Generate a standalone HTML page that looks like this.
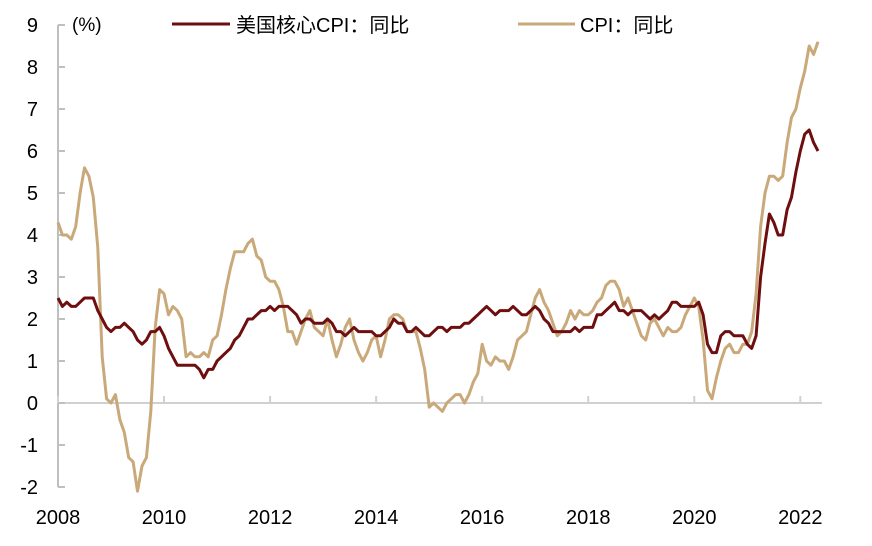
<!DOCTYPE html>
<html><head><meta charset="utf-8"><style>
body{margin:0;background:#fff;}
svg{display:block;font-family:"Liberation Sans","Noto Sans CJK SC",sans-serif;}
</style></head><body>
<svg id="chart" width="872" height="546" viewBox="0 0 872 546"></svg>
<script>
const years=[2008,2010,2012,2014,2016,2018,2020,2022];
const yTicks=[-2,-1,0,1,2,3,4,5,6,7,8,9];
const cpi=[4.3,4.0,4.0,3.9,4.2,5.0,5.6,5.4,4.9,3.7,1.1,0.1,
0.0,0.2,-0.4,-0.7,-1.3,-1.4,-2.1,-1.5,-1.3,-0.2,1.8,2.7,
2.6,2.1,2.3,2.2,2.0,1.1,1.2,1.1,1.1,1.2,1.1,1.5,
1.6,2.1,2.7,3.2,3.6,3.6,3.6,3.8,3.9,3.5,3.4,3.0,
2.9,2.9,2.7,2.3,1.7,1.7,1.4,1.7,2.0,2.2,1.8,1.7,
1.6,2.0,1.5,1.1,1.4,1.8,2.0,1.5,1.2,1.0,1.2,1.5,
1.6,1.1,1.5,2.0,2.1,2.1,2.0,1.7,1.7,1.7,1.3,0.8,
-0.1,0.0,-0.1,-0.2,0.0,0.1,0.2,0.2,0.0,0.2,0.5,0.7,
1.4,1.0,0.9,1.1,1.0,1.0,0.8,1.1,1.5,1.6,1.7,2.1,
2.5,2.7,2.4,2.2,1.9,1.6,1.7,1.9,2.2,2.0,2.2,2.1,
2.1,2.2,2.4,2.5,2.8,2.9,2.9,2.7,2.3,2.5,2.2,1.9,
1.6,1.5,1.9,2.0,1.8,1.6,1.8,1.7,1.7,1.8,2.1,2.3,
2.5,2.3,1.5,0.3,0.1,0.6,1.0,1.3,1.4,1.2,1.2,1.4,
1.4,1.7,2.6,4.2,5.0,5.4,5.4,5.3,5.4,6.2,6.8,7.0,
7.5,7.9,8.5,8.3,8.6];
const core=[2.5,2.3,2.4,2.3,2.3,2.4,2.5,2.5,2.5,2.2,2.0,1.8,
1.7,1.8,1.8,1.9,1.8,1.7,1.5,1.4,1.5,1.7,1.7,1.8,
1.6,1.3,1.1,0.9,0.9,0.9,0.9,0.9,0.8,0.6,0.8,0.8,
1.0,1.1,1.2,1.3,1.5,1.6,1.8,2.0,2.0,2.1,2.2,2.2,
2.3,2.2,2.3,2.3,2.3,2.2,2.1,1.9,2.0,2.0,1.9,1.9,
1.9,2.0,1.9,1.7,1.7,1.6,1.7,1.8,1.7,1.7,1.7,1.7,
1.6,1.6,1.7,1.8,2.0,1.9,1.9,1.7,1.7,1.8,1.7,1.6,
1.6,1.7,1.8,1.8,1.7,1.8,1.8,1.8,1.9,1.9,2.0,2.1,
2.2,2.3,2.2,2.1,2.2,2.2,2.2,2.3,2.2,2.1,2.1,2.2,
2.3,2.2,2.0,1.9,1.7,1.7,1.7,1.7,1.7,1.8,1.7,1.8,
1.8,1.8,2.1,2.1,2.2,2.3,2.4,2.2,2.2,2.1,2.2,2.2,
2.2,2.1,2.0,2.1,2.0,2.1,2.2,2.4,2.4,2.3,2.3,2.3,
2.3,2.4,2.1,1.4,1.2,1.2,1.6,1.7,1.7,1.6,1.6,1.6,
1.4,1.3,1.6,3.0,3.8,4.5,4.3,4.0,4.0,4.6,4.9,5.5,
6.0,6.4,6.5,6.2,6.0];
const svg=document.getElementById('chart');
const NS='http://www.w3.org/2000/svg';
const x0=58, perMonth=(818-58)/172;
const X=m=>x0+m*perMonth;
const XY=y=>x0+(y-2008)*12*perMonth;
const Y=v=>403-v*42;
function mk(t,a,p){const e=document.createElementNS(NS,t);for(const k in a)e.setAttribute(k,a[k]);(p||svg).appendChild(e);return e;}
// axes
let e;
e=mk('line',{x1:58,y1:Y(9),x2:58,y2:Y(-2),stroke:'#bfbfbf','stroke-width':2});


e=mk('line',{x1:58,y1:403,x2:822,y2:403,stroke:'#d0d0d0','stroke-width':2});


yTicks.forEach(v=>{
 e=mk('line',{x1:58,y1:Y(v),x2:65,y2:Y(v),stroke:'#bfbfbf','stroke-width':2});
 
 
 e=mk('text',{x:38,y:Y(v)+7,'text-anchor':'end','font-size':20,fill:'#000'});
 e.textContent=v;
 
 
});
years.forEach(yr=>{
 const x=XY(yr);
 e=mk('line',{x1:x,y1:403,x2:x,y2:396,stroke:'#d0d0d0','stroke-width':2});
 
 
 e=mk('text',{x:x,y:524,'text-anchor':'middle','font-size':20,fill:'#000'});
 e.textContent=yr;
 
 
});
e=mk('text',{x:72,y:31,'font-size':19,fill:'#000'});e.textContent='(%)';


function line(arr,col,name){
 const d=arr.map((v,i)=>(i?'L':'M')+X(i).toFixed(1)+' '+Y(v).toFixed(1)).join('');
 e=mk('path',{d:d,fill:'none',stroke:col,'stroke-width':3,'stroke-linejoin':'round'});
 
 
}
line(cpi,'#C9A97A','cpi-yoy-line');
line(core,'#6E0E0E','core-cpi-yoy-line');
// legend
e=mk('line',{x1:172,y1:24,x2:230,y2:24,stroke:'#6E0E0E','stroke-width':3});


e=mk('text',{x:236,y:32,'font-size':20,fill:'#000'});e.textContent='美国核心CPI：同比';


e=mk('line',{x1:518,y1:24,x2:575,y2:24,stroke:'#C9A97A','stroke-width':3});


e=mk('text',{x:580,y:32,'font-size':20,fill:'#000'});e.textContent='CPI：同比';


</script>
</body></html>
